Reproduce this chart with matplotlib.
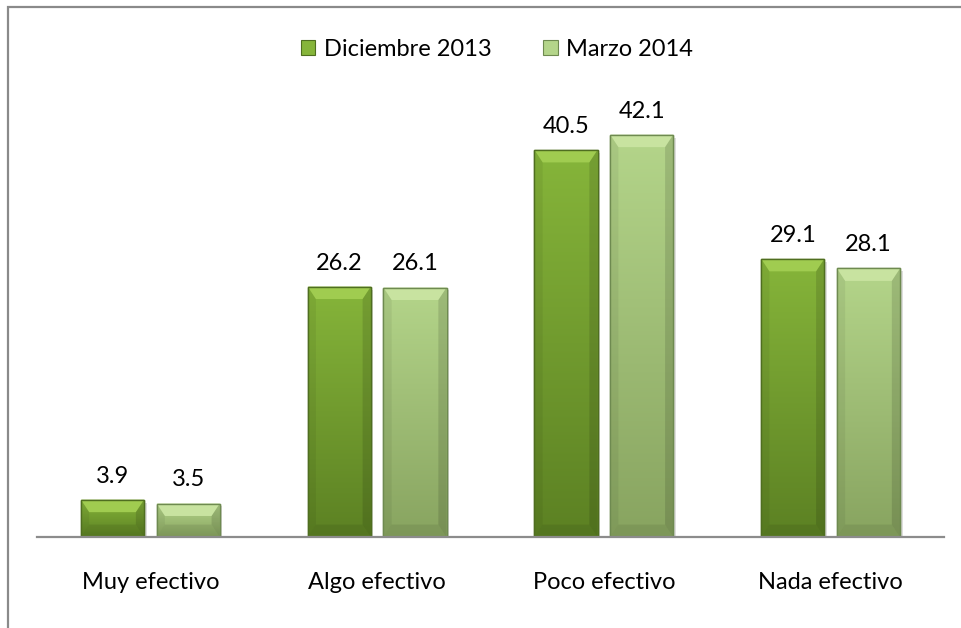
import matplotlib
matplotlib.use('Agg')
import matplotlib.pyplot as plt
from matplotlib.patches import Rectangle, Polygon
import numpy as np

categories = ['Muy efectivo', 'Algo efectivo', 'Poco efectivo', 'Nada efectivo']
dic_2013 = [3.9, 26.2, 40.5, 29.1]
mar_2014 = [3.5, 26.1, 42.1, 28.1]
series_names = ['Diciembre 2013', 'Marzo 2014']

plt.rcParams['font.family'] = ['Lato', 'DejaVu Sans']

# face gradient (top, bottom), bevel colour, edge colour
styles = [
    ('#86b53a', '#5c8123', '#a0cc50', '#4f6e20'),
    ('#b4d58a', '#88a460', '#c8e3a0', '#6e8a50'),
]

fig = plt.figure(figsize=(9.62, 6.28), dpi=100)
ax = fig.add_axes([37 / 962, 91 / 628, 907 / 962, 430 / 628])

# outer chart frame (runs off the right and bottom edges)
fig.add_artist(Rectangle((8 / 962, -0.05), 1.2, 1 - 7 / 628 + 0.05,
                         transform=fig.transFigure, fill=False,
                         edgecolor='#8a8a8a', lw=1.6))

x = np.arange(len(categories))
width = 0.278
offsets = [-0.167, 0.167]
dx = 0.036
dy = 1.3


def hex_rgb(h):
    return np.array([int(h[i:i + 2], 16) / 255 for i in (1, 3, 5)])


for values, off, name, (ctop, cbot, cbev, cedge) in zip([dic_2013, mar_2014], offsets, series_names, styles):
    bars = ax.bar(x + off, values, width, color=ctop, edgecolor=cedge, lw=1.0, zorder=3, label=name)
    grad = np.linspace(0, 1, 100)[:, None]
    rgb = hex_rgb(ctop) * (1 - grad) + hex_rgb(cbot) * grad
    img = rgb[:, None, :].reshape(100, 1, 3)
    for b in bars:
        x0, w, h = b.get_x(), b.get_width(), b.get_height()
        x1 = x0 + w
        # soft shadow
        ax.add_patch(Rectangle((x1, 0), 0.012, h - 0.3, color='#c8c8c8', alpha=0.6, lw=0, zorder=2))
        im = ax.imshow(img, extent=(x0, x1, 0, h), aspect='auto', zorder=3.1,
                       interpolation='bilinear')
        im.set_clip_path(b)
        # bevel pieces
        ax.add_patch(Polygon([(x0, h), (x1, h), (x1 - dx, h - dy), (x0 + dx, h - dy)],
                             closed=True, color=cbev, lw=0, zorder=3.2))
        ax.add_patch(Polygon([(x0, 0), (x0, h), (x0 + dx, h - dy), (x0 + dx, dy)],
                             closed=True, color='black', alpha=0.06, lw=0, zorder=3.2))
        ax.add_patch(Polygon([(x1, 0), (x1, h), (x1 - dx, h - dy), (x1 - dx, dy)],
                             closed=True, color='black', alpha=0.12, lw=0, zorder=3.2))
        ax.add_patch(Polygon([(x0, 0), (x1, 0), (x1 - dx, dy), (x0 + dx, dy)],
                             closed=True, color='black', alpha=0.08, lw=0, zorder=3.2))
        ax.add_patch(Rectangle((x0, 0), w, h, fill=False, edgecolor=cedge, lw=1.0, zorder=3.3))
        ax.annotate(f'{h}', (x0 + w / 2, h), xytext=(0, 17), textcoords='offset points',
                    ha='center', va='center', fontsize=17, color='black')

ax.set_xlim(-0.5, 3.5)
ax.set_ylim(0, 45)
ax.set_xticks(x)
ax.set_xticklabels(categories, fontsize=17)
ax.tick_params(axis='x', length=0, pad=25)
ax.set_yticks([])
for s in ['top', 'right', 'left']:
    ax.spines[s].set_visible(False)
ax.spines['bottom'].set_color('#8c8c8c')
ax.spines['bottom'].set_linewidth(1.6)
ax.spines['bottom'].set_zorder(5)

handles = [Rectangle((0, 0), 1, 1, facecolor=st[0], edgecolor=st[3], lw=0.8) for st in styles]
fig.legend(handles, series_names, loc='center', bbox_to_anchor=(497 / 962, 1 - 49 / 628),
           ncol=2, frameon=False, fontsize=17, handlelength=0.6, handleheight=0.6,
           handletextpad=0.35, columnspacing=2.2)

fig.savefig('out.png', dpi=100)
